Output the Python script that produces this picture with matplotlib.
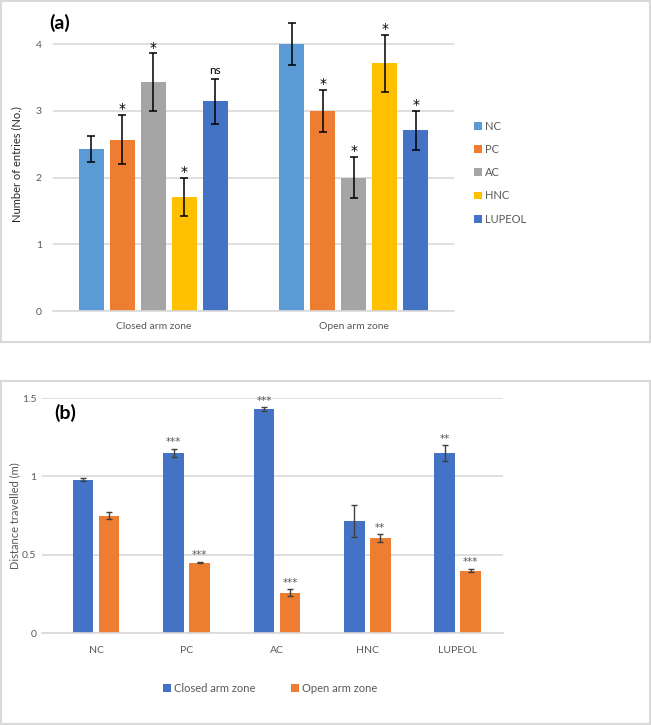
import numpy as np
import matplotlib.pyplot as plt
from matplotlib.patches import Rectangle

plt.rcParams['font.family'] = ['Lato', 'DejaVu Sans']

# panel (a): number of entries
zones = ['Closed arm zone', 'Open arm zone']
groups = ['NC', 'PC', 'AC', 'HNC', 'LUPEOL']
entries = {
    'NC': [2.43, 4.00],
    'PC': [2.57, 3.00],
    'AC': [3.43, 2.00],
    'HNC': [1.71, 3.71],
    'LUPEOL': [3.14, 2.71],
}
entries_err = {
    'NC': [0.20, 0.31],
    'PC': [0.37, 0.31],
    'AC': [0.43, 0.31],
    'HNC': [0.29, 0.43],
    'LUPEOL': [0.34, 0.29],
}
entries_sig = {
    'NC': ['', ''],
    'PC': ['*', '*'],
    'AC': ['*', '*'],
    'HNC': ['*', '*'],
    'LUPEOL': ['ns', '*'],
}

# panel (b): distance travelled
closed_dist = [0.98, 1.15, 1.43, 0.715, 1.15]
closed_err = [0.012, 0.025, 0.012, 0.10, 0.05]
closed_sig = ['', '***', '***', '', '**']
open_dist = [0.75, 0.45, 0.26, 0.605, 0.40]
open_err = [0.022, 0.005, 0.02, 0.025, 0.012]
open_sig = ['', '***', '***', '**', '***']

colors_a = {'NC': '#5B9BD5', 'PC': '#ED7D31', 'AC': '#A5A5A5',
            'HNC': '#FFC000', 'LUPEOL': '#4472C4'}
c_closed, c_open = '#4472C4', '#ED7D31'
grid_c = '#d9d9d9'
tick_c = '#595959'

fig = plt.figure(figsize=(6.51, 7.25), dpi=100)

# panel frames
for y0, h in [(0.528, 0.471), (0.0015, 0.4725)]:
    fig.patches.append(Rectangle((0.002, y0), 0.996, h, transform=fig.transFigure,
                                 fill=False, edgecolor=grid_c, lw=1.5))


def style(ax):
    for s in ['top', 'right', 'left']:
        ax.spines[s].set_visible(False)
    ax.spines['bottom'].set_color(grid_c)
    ax.spines['bottom'].set_linewidth(1.2)
    ax.yaxis.grid(True, color=grid_c, lw=1.2)
    ax.set_axisbelow(True)
    ax.tick_params(length=0, colors=tick_c, labelsize=7.5)


# ---- (a)
ax1 = fig.add_axes([0.0814, 0.571, 0.616, 0.405])
x = np.arange(len(zones))
step, width = 0.155, 0.124
for i, g in enumerate(groups):
    xs = x + (i - 2) * step
    ax1.bar(xs, entries[g], width, color=colors_a[g], label=g,
            yerr=entries_err[g], capsize=3,
            error_kw=dict(ecolor='black', elinewidth=1.1, capthick=1.1))
    for xi, v, e, s in zip(xs, entries[g], entries_err[g], entries_sig[g]):
        if s == '*':
            ax1.text(xi, v + e - 0.02, s, ha='center', va='bottom',
                     fontsize=10, color='black', family='DejaVu Sans')
        elif s:
            ax1.text(xi, v + e + 0.04, s, ha='center', va='bottom',
                     fontsize=8.5, color='black')
ax1.set_xlim(-0.5, 1.5)
ax1.set_ylim(0, 4.4)
ax1.set_yticks([0, 1, 2, 3, 4])
ax1.set_xticks(x)
ax1.set_xticklabels(zones)
ax1.tick_params(axis='x', pad=8)
style(ax1)
ax1.tick_params(axis='y', pad=8)
ax1.set_ylabel('Number of entries (No.)', fontsize=8, color='#262626')
ax1.yaxis.set_label_coords(-0.077, 0.5)
ax1.legend(loc='center left', bbox_to_anchor=(1.025, 0.471), frameon=False,
           fontsize=8, labelcolor=tick_c, handlelength=0.7, handleheight=0.7,
           handletextpad=0.3, labelspacing=1.1)
fig.text(0.076, 0.969, '(a)', fontsize=14, fontweight='bold', va='center')

# ---- (b)
ax2 = fig.add_axes([0.0645, 0.1265, 0.708, 0.3245])
xb = np.arange(len(groups))
off, wb = 0.144, 0.227
ekw = dict(ecolor='#404040', elinewidth=1.0, capthick=1.0)
ax2.bar(xb - off, closed_dist, wb, color=c_closed, label='Closed arm zone',
        yerr=closed_err, capsize=2.5, error_kw=ekw)
ax2.bar(xb + off, open_dist, wb, color=c_open, label='Open arm zone',
        yerr=open_err, capsize=2.5, error_kw=ekw)
for xs, vals, errs, sigs in [(xb - off, closed_dist, closed_err, closed_sig),
                             (xb + off, open_dist, open_err, open_sig)]:
    for xi, v, e, s in zip(xs, vals, errs, sigs):
        if s:
            ax2.text(xi, v + e + 0.01, s, ha='center', va='bottom',
                     fontsize=7.5, color=tick_c, family='DejaVu Sans',
                     clip_on=False)
ax2.set_xlim(-0.6, 4.5)
ax2.set_ylim(0, 1.5)
ax2.set_yticks([0, 0.5, 1, 1.5])
ax2.set_yticklabels(['0', '0.5', '1', '1.5'])
ax2.set_xticks(xb)
ax2.set_xticklabels(groups)
ax2.tick_params(axis='x', pad=9)
style(ax2)
ax2.tick_params(axis='y', pad=4)
ax2.set_ylabel('Distance travelled (m)', fontsize=8, color=tick_c)
ax2.yaxis.set_label_coords(-0.048, 0.5)
ax2.legend(loc='center', bbox_to_anchor=(0.495, -0.235), ncol=2, frameon=False,
           fontsize=8, labelcolor=tick_c, handlelength=0.7, handleheight=0.7,
           handletextpad=0.3, columnspacing=3.2)
fig.text(0.084, 0.430, '(b)', fontsize=14, fontweight='bold', va='center')

fig.savefig('out.png', dpi=100)
